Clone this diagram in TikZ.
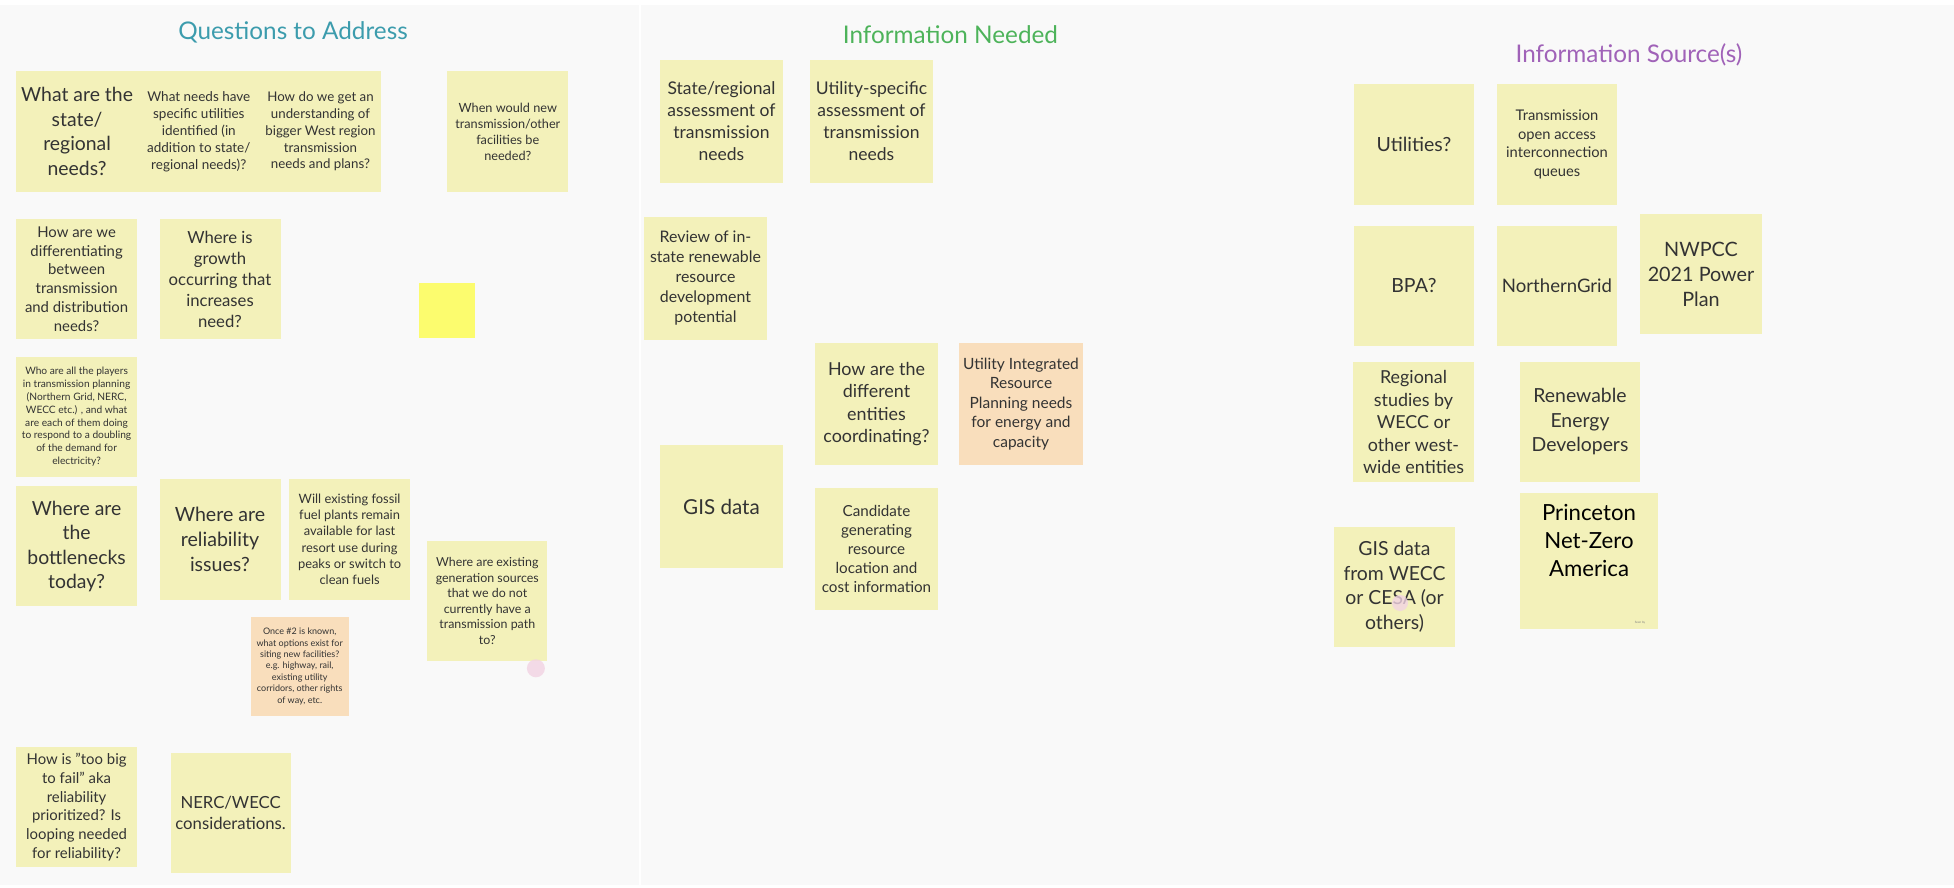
\documentclass[tikz,border=0pt]{standalone}
\usepackage{fontspec}
\setmainfont{Lato}
\definecolor{board}{HTML}{F9F9F9}
\definecolor{padyellow}{HTML}{F3F1BA}
\definecolor{padorange}{HTML}{F9DEBC}
\definecolor{padbright}{HTML}{FCFC6E}
\definecolor{ink}{HTML}{333333}
\definecolor{qcol}{HTML}{3C9CAD}
\definecolor{ncol}{HTML}{4DB35A}
\definecolor{scol}{HTML}{A062B8}
\definecolor{dotpink}{HTML}{F2D3E3}
\newcommand{\fsz}[2]{\fontsize{#1}{#2}\selectfont}
\newcommand{\pinkdot}[2]{\fill[dotpink,opacity=0.8] (#1) circle (#2)}

\begin{document}
\begin{tikzpicture}[x=1pt,y=-1pt,
	pad/.style={fill=padyellow,text=ink,align=center,inner sep=0pt},
	padsize/.style 2 args={minimum width=#1,minimum height=#2},
	heading/.style={inner sep=0pt,font=\fsz{24.3}{29}}]
	\useasboundingbox (0,0) rectangle (1954,888);
	\fill[white] (0,0) rectangle (1954,888);
	\fill[board] (0,5) rectangle (1954,885);
	\draw[white,line width=2] (640,5) -- (640,888);

	\node[heading,text=qcol] (tquest) at (293,32) {Questions to Address};
	\node[heading,text=ncol] (tneed) at (950.5,35) {Information Needed};
	\node[heading,text=scol] (tsrc) at (1629,55) {Information Source(s)};

	\node[pad,padsize={121.7}{121},font=\fsz{19.4}{24.5}] (qstate) at (77.1,131.5) {What are the\\state/\\regional\\needs?};
	\node[pad,padsize={121.7}{121},font=\fsz{13.5}{17}] (qutil) at (198.8,131.5) {What needs have\\specific utilities\\identified (in\\addition to state/\\regional needs)?};
	\node[pad,padsize={121.7}{121},font=\fsz{13.3}{16.8}] (qwest) at (320.5,131.5) {How do we get an\\understanding of\\bigger West region\\transmission\\needs and plans?};
	\node[pad,padsize={121}{121},font=\fsz{12.7}{16}] (qwhen) at (507.8,131.5) {When would new\\transmission/other\\facilities be\\needed?};
	\node[pad,padsize={121}{120},font=\fsz{14.9}{18.8}] (qdiff) at (76.6,279) {How are we\\differentiating\\between\\transmission\\and distribution\\needs?};
	\node[pad,padsize={121}{120},font=\fsz{16.7}{21}] (qgrowth) at (220,279) {Where is\\growth\\occurring that\\increases\\need?};
	\node[pad,fill=padbright,padsize={56}{55}] (qblank) at (446.8,310.5) {};
	\node[pad,padsize={121}{120},font=\fsz{10.2}{12.85}] (qplayers) at (76.6,416.8) {Who are all the players\\in transmission planning\\(Northern Grid, NERC,\\WECC etc.) , and what\\are each of them doing\\to respond to a doubling\\of the demand for\\electricity?};
	\node[pad,padsize={121}{120},font=\fsz{19.4}{24.5}] (qbottle) at (76.6,546.3) {Where are\\the\\bottlenecks\\today?};
	\node[pad,padsize={121}{121},font=\fsz{19.6}{24.7}] (qreliab) at (220,539.4) {Where are\\reliability\\issues?};
	\node[pad,padsize={121}{121},font=\fsz{12.9}{16.3}] (qfossil) at (349.6,539.4) {Will existing fossil\\fuel plants remain\\available for last\\resort use during\\peaks or switch to\\clean fuels};
	\node[pad,padsize={120}{120},font=\fsz{12.4}{15.6}] (qgensrc) at (487.3,601) {Where are existing\\generation sources\\that we do not\\currently have a\\transmission path\\to?};
	\node[pad,fill=padorange,padsize={98.4}{99},font=\fsz{9}{11.4}] (qsiting) at (299.7,666.3) {Once \#2 is known,\\what options exist for\\siting new facilities?\\e.g. highway, rail,\\existing utility\\corridors, other rights\\of way, etc.};
	\node[pad,padsize={121}{120},font=\fsz{14.9}{18.7}] (qtoobig) at (76.6,807.2) {How is "too big\\to fail" aka\\reliability\\prioritized? Is\\looping needed\\for reliability?};
	\node[pad,padsize={120}{120},font=\fsz{16.7}{21}] (qnerc) at (230.6,812.5) {NERC/WECC\\considerations.};
	\pinkdot{535.9,668.3}{9};

	\node[pad,padsize={123}{123},font=\fsz{17.5}{22}] (nstate) at (721.5,121.5) {State/regional\\assessment of\\transmission\\needs};
	\node[pad,padsize={123}{123},font=\fsz{17.5}{22}] (nutil) at (871.5,121.5) {Utility-specific\\assessment of\\transmission\\needs};
	\node[pad,padsize={123}{123},font=\fsz{15.9}{20}] (nreview) at (705.5,278.5) {Review of in-\\state renewable\\resource\\development\\potential};
	\node[pad,padsize={123}{122},font=\fsz{17.9}{22.6}] (ncoord) at (876.5,404) {How are the\\different\\entities\\coordinating?};
	\node[pad,fill=padorange,padsize={124}{122},font=\fsz{15.5}{19.5}] (nirp) at (1021,404) {Utility Integrated\\Resource\\Planning needs\\for energy and\\capacity};
	\node[pad,padsize={123}{123},font=\fsz{20.6}{24}] (ngis) at (721.5,506.5) {GIS data};
	\node[pad,padsize={123}{122},font=\fsz{15.2}{19.2}] (ncand) at (876.5,549) {Candidate\\generating\\resource\\location and\\cost information};

	\node[pad,padsize={120}{121},font=\fsz{19.5}{24}] (sutil) at (1414,144.5) {Utilities?};
	\node[pad,padsize={120}{121},font=\fsz{14.7}{18.5}] (squeue) at (1557,144.5) {Transmission\\open access\\interconnection\\queues};
	\node[pad,padsize={120}{120},font=\fsz{19.5}{24}] (sbpa) at (1414,286) {BPA?};
	\node[pad,padsize={120}{120},font=\fsz{18.6}{24}] (sngrid) at (1557,286) {NorthernGrid};
	\node[pad,padsize={122}{120},font=\fsz{19.8}{25}] (snwpcc) at (1701,274) {NWPCC\\2021 Power\\Plan};
	\node[pad,padsize={121}{120},font=\fsz{17.9}{22.5}] (swecc) at (1413.5,422) {Regional\\studies by\\WECC or\\other west-\\wide entities};
	\node[pad,padsize={120}{120},font=\fsz{19.4}{24.5}] (sdev) at (1580,422) {Renewable\\Energy\\Developers};
	\node[pad,padsize={138}{136},text=black,text depth=42pt,font=\fsz{22.2}{28}] (spnza) at (1589,561) {Princeton\\Net-Zero\\America};
	\node[inner sep=0pt,text=gray,font=\fsz{3}{3}] (sseen) at (1640,623) {Seen by};
	\node[pad,padsize={121}{120},font=\fsz{19.4}{24.5}] (sgis) at (1394.5,587) {GIS data\\from WECC\\or CESA (or\\others)};
	\pinkdot{1400,603}{8};
\end{tikzpicture}
\end{document}
